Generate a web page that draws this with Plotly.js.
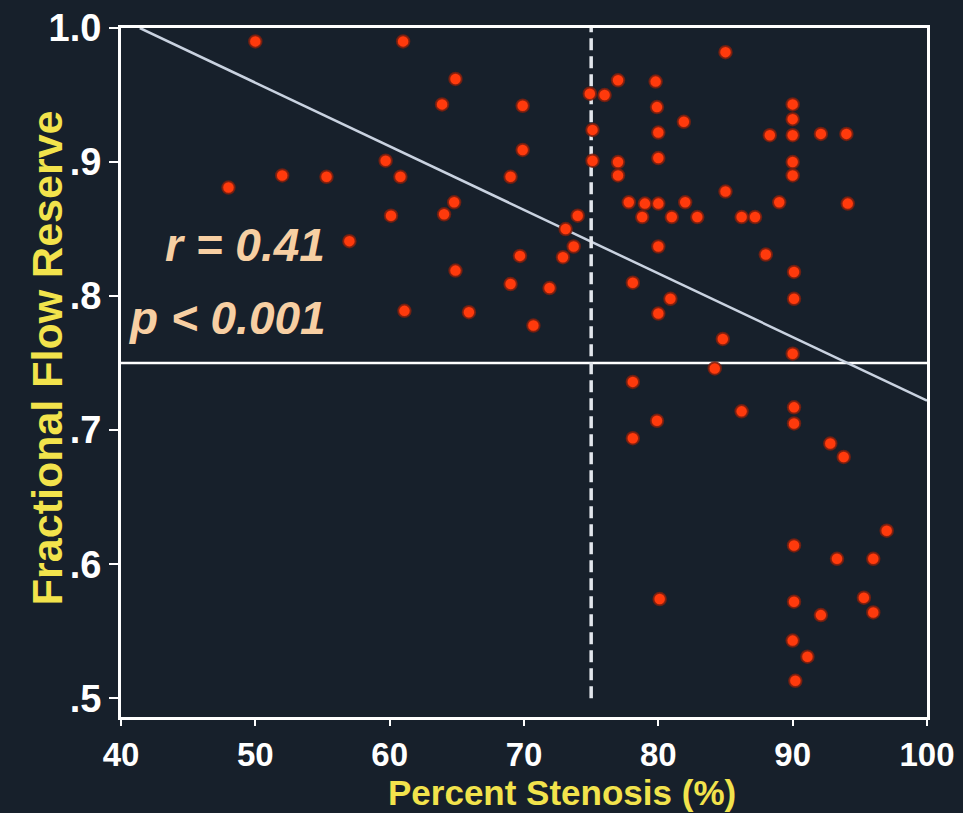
<!DOCTYPE html>
<html>
<head>
<meta charset="utf-8">
<script src="https://cdn.plot.ly/plotly-3.0.1.min.js"></script>
<style>
html,body{margin:0;padding:0;background:#17202b;}
#chart{width:963px;height:813px;}
</style>
</head>
<body>
<div id="chart"></div>
<script>
// Percent stenosis (%) of each lesion
const stenosis = [
  50, 61, 48, 52, 55.3, 59.7, 60.1, 60.8, 57, 63.9, 64.9, 64.05, 64.8, 64.9, 61.1, 65.9,
  69.9, 69.9, 69, 69.7, 69, 70.7, 71.9, 72.9, 73.1, 73.7, 74,
  74.9, 75.1, 75.1,
  85, 77, 79.8, 76, 79.9, 81.9, 80, 90, 90, 90, 88.3, 92.1, 94, 77, 77, 80, 90, 90, 85,
  77.8, 79, 80, 82, 89, 94.1, 78.8, 81, 82.9, 86.2, 87.2,
  80, 88, 78.1, 80.9, 80, 90.1, 90.1, 84.8, 90, 84.2, 78.1,
  79.9, 78.1, 86.2, 90.1, 90.1, 92.8, 93.8, 97, 90.1, 93.3, 96, 80.1, 90.1, 95.3, 96, 92.1, 90, 91.1, 90.2
];
// Fractional flow reserve of each lesion
const ffr = [
  0.99, 0.99, 0.881, 0.89, 0.889, 0.901, 0.86, 0.889, 0.841, 0.943, 0.962, 0.861, 0.87, 0.819, 0.789, 0.788,
  0.942, 0.909, 0.889, 0.83, 0.809, 0.778, 0.806, 0.829, 0.85, 0.837, 0.86,
  0.951, 0.924, 0.901,
  0.982, 0.961, 0.96, 0.95, 0.941, 0.93, 0.922, 0.943, 0.932, 0.92, 0.92, 0.921, 0.921, 0.9, 0.89, 0.903, 0.9, 0.89, 0.878,
  0.87, 0.869, 0.869, 0.87, 0.87, 0.869, 0.859, 0.859, 0.859, 0.859, 0.859,
  0.837, 0.831, 0.81, 0.798, 0.787, 0.818, 0.798, 0.768, 0.757, 0.746, 0.736,
  0.707, 0.694, 0.714, 0.717, 0.705, 0.69, 0.68, 0.625, 0.614, 0.604, 0.604, 0.574, 0.572, 0.575, 0.564, 0.562, 0.543, 0.531, 0.513
];
// Regression line endpoints
const regX = [41.4, 100];
const regY = [1.0, 0.722];
// Cut-off lines
const cutStenosisX = [75, 75];
const cutStenosisY = [0.5, 1.0];
const cutFfrX = [40, 100];
const cutFfrY = [0.75, 0.75];
// Axis ticks
const xTickVals = [40, 50, 60, 70, 80, 90, 100];
const xTickText = ['40', '50', '60', '70', '80', '90', '100'];
const yTickVals = [0.5, 0.6, 0.7, 0.8, 0.9, 1.0];
const yTickText = ['.5', '.6', '.7', '.8', '.9', '1.0'];

const bg = '#17202b';
const xTickFont = {family: 'Liberation Sans, Arial', size: 33, color: '#ffffff', weight: 'bold'};
const yTickFont = {family: 'Liberation Sans, Arial', size: 38, color: '#ffffff', weight: 'bold'};
const yellow = '#f2e34c';

const traces = [
  {x: cutFfrX, y: cutFfrY, mode: 'lines', line: {color: '#ffffff', width: 2.5}, hoverinfo: 'skip', showlegend: false},
  {x: regX, y: regY, mode: 'lines', line: {color: '#c9d2e0', width: 2.5}, hoverinfo: 'skip', showlegend: false},
  {x: cutStenosisX, y: cutStenosisY, mode: 'lines', line: {color: '#e2e6ec', width: 3.5, dash: '12px,6px'}, hoverinfo: 'skip', showlegend: false},
  {x: stenosis, y: ffr, mode: 'markers', marker: {color: '#ff3a0c', size: 12.5, line: {color: 'rgba(120,30,15,0.85)', width: 2}}, showlegend: false}
];

const layout = {
  width: 963, height: 813,
  margin: {l: 121, r: 36, t: 28, b: 96, pad: 0},
  paper_bgcolor: bg, plot_bgcolor: bg,
  showlegend: false,
  xaxis: {
    range: [40, 100], tickvals: xTickVals, ticktext: xTickText,
    showgrid: false, zeroline: false, showline: true, linecolor: '#ffffff', linewidth: 3, mirror: true,
    ticks: 'outside', ticklen: 6, tickwidth: 2, tickcolor: '#ffffff',
    tickfont: xTickFont, fixedrange: true
  },
  yaxis: {
    range: [0.486, 1.0], tickvals: yTickVals, ticktext: yTickText,
    showgrid: false, zeroline: false, showline: true, linecolor: '#ffffff', linewidth: 3, mirror: true,
    ticks: 'outside', ticklen: 9, tickwidth: 2, tickcolor: '#ffffff',
    tickfont: yTickFont, fixedrange: true
  },
  annotations: [
    {text: 'Percent Stenosis (%)', xref: 'paper', yref: 'paper', x: 0.547, y: -0.1103, xanchor: 'center', yanchor: 'middle', showarrow: false,
     font: {family: 'Liberation Sans, Arial', size: 35, color: yellow, weight: 'bold'}},
    {text: 'Fractional Flow Reserve', xref: 'paper', yref: 'paper', x: -0.092, y: 0.522, xanchor: 'center', yanchor: 'middle', textangle: -90, showarrow: false,
     font: {family: 'Liberation Sans, Arial', size: 43, color: yellow, weight: 'bold'}},
    {text: '<i>r = 0.41</i>', xref: 'x', yref: 'y', x: 49.2, y: 0.838, xanchor: 'center', yanchor: 'middle', showarrow: false,
     font: {family: 'Liberation Sans, Arial', size: 46, color: '#f7cfa3', weight: 'bold'}},
    {text: '<i>p < 0.001</i>', xref: 'x', yref: 'y', x: 47.9, y: 0.784, xanchor: 'center', yanchor: 'middle', showarrow: false,
     font: {family: 'Liberation Sans, Arial', size: 46, color: '#f7cfa3', weight: 'bold'}}
  ]
};

Plotly.newPlot('chart', traces, layout, {displayModeBar: false, staticPlot: true});
</script>
</body>
</html>
